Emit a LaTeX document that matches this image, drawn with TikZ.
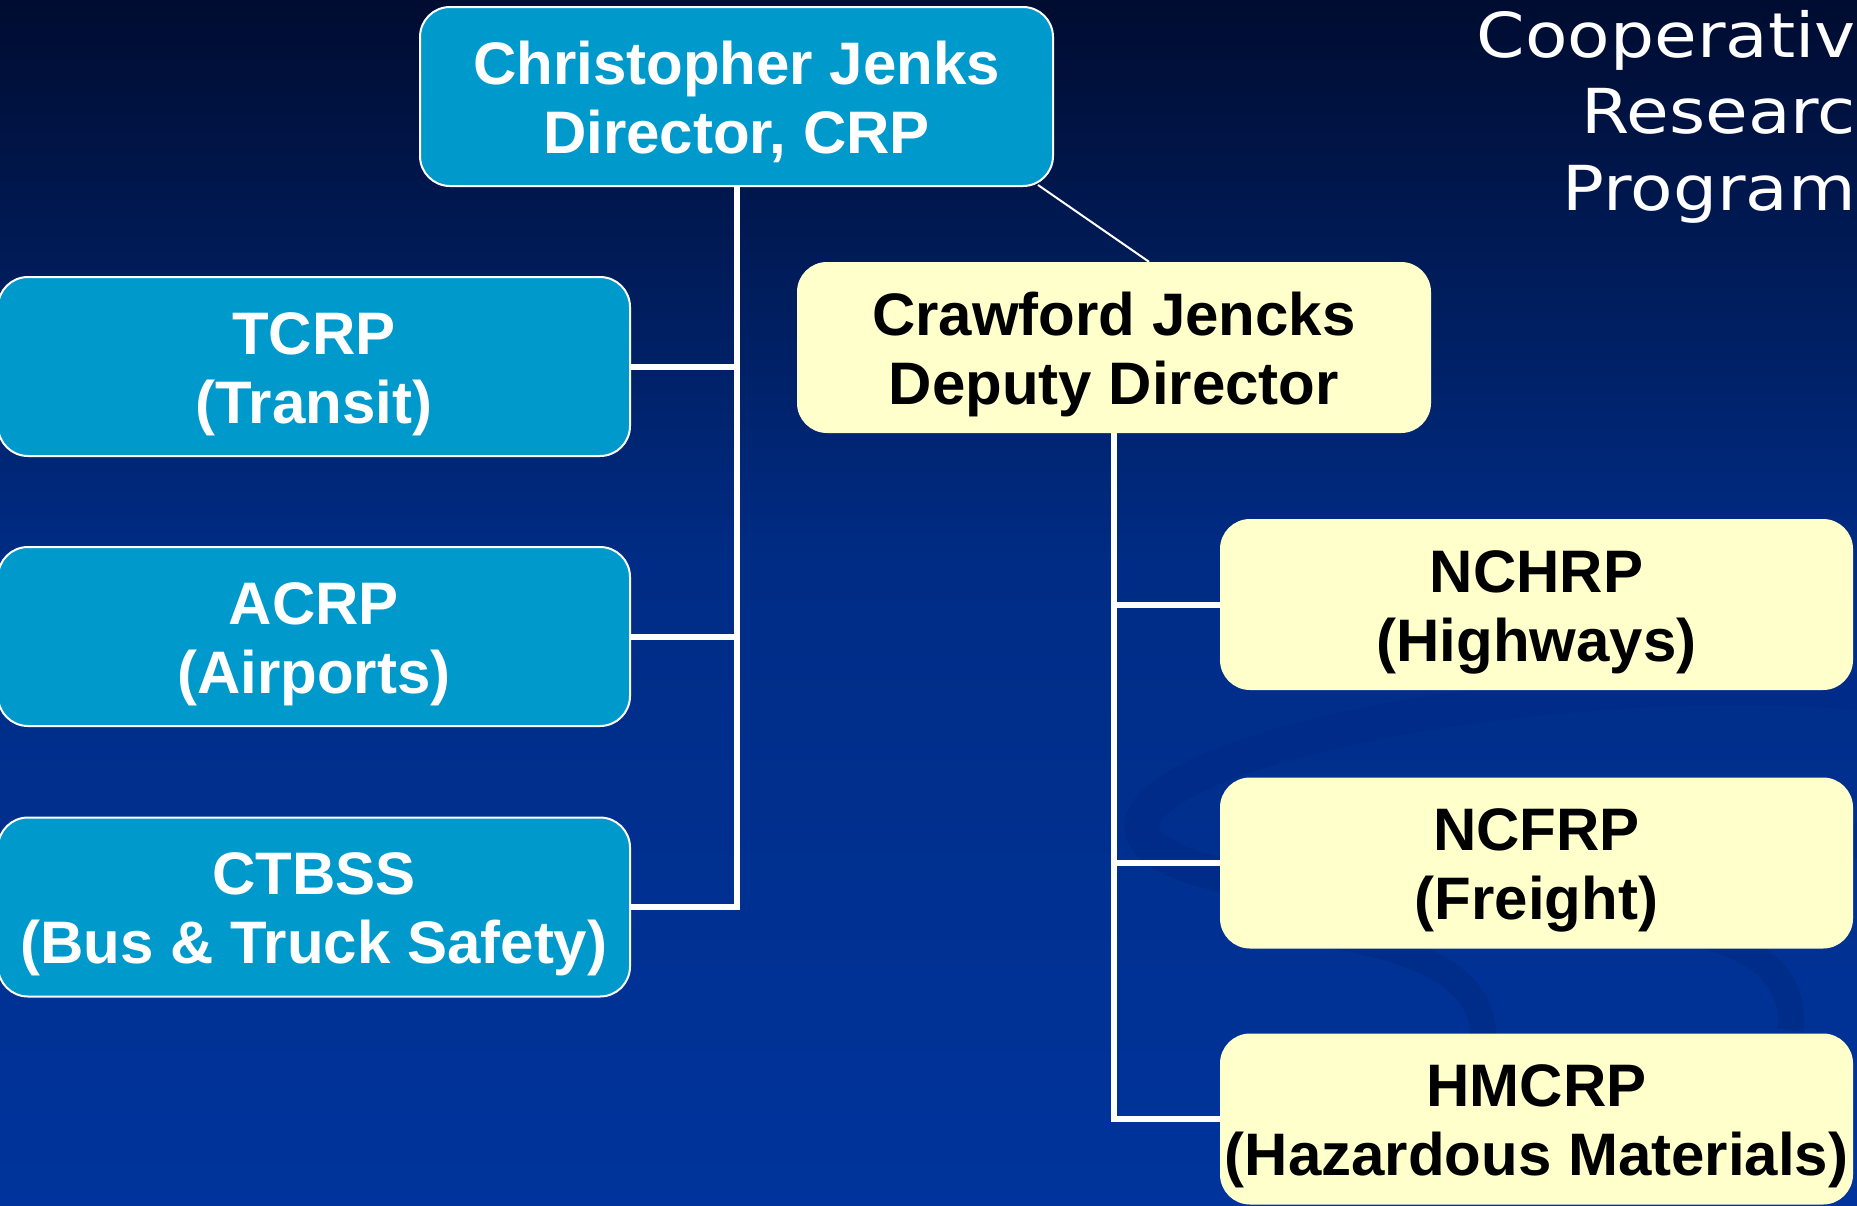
\documentclass[tikz,border=0pt]{standalone}
\usepackage{fontspec}
\setmainfont{Liberation Sans}
\newfontfamily\titlefont[FakeStretch=1.12]{DejaVu Sans}
\usetikzlibrary{calc}
\definecolor{boxblue}{HTML}{0099CC}
\definecolor{boxyellow}{HTML}{FFFFCC}
\definecolor{bgtop}{HTML}{000C30}
\definecolor{bgmid}{HTML}{002C85}
\definecolor{bgbot}{HTML}{00349C}
\definecolor{swirlc}{HTML}{002B88}
\pgfdeclarelayer{bglayer}
\pgfdeclarelayer{linelayer}
\pgfsetlayers{bglayer,linelayer,main}
\newcommand\ftop{\rule{0pt}{60pt}}
\newcommand\fbot{\rule[-16pt]{0pt}{16pt}}
\begin{document}
\begin{tikzpicture}[x=1pt,y=-1pt,
  box/.style={rectangle, rounded corners=30pt, inner sep=0pt, align=center,
    font=\fontsize{60}{69}\selectfont\bfseries, minimum width=633pt},
  bluebox/.style={box, fill=boxblue, draw=white, line width=2pt, text=white, minimum height=179pt},
  yellowbox/.style={box, fill=boxyellow, text=black, minimum height=171pt},
  conn/.style={draw=white, line width=6pt},
  thinconn/.style={draw=white, line width=2pt},
  swirl/.style={draw=swirlc, line width=34pt, opacity=0.8}]
\useasboundingbox (0,0) rectangle (1857,1205);
\begin{pgfonlayer}{bglayer}
  \shade[top color=bgtop, bottom color=bgmid] (0,0) rectangle (1857,560);
  \shade[top color=bgmid, bottom color=bgbot] (0,559) rectangle (1857,1205);
  \draw[swirl] (1580,790) ellipse [x radius=440, y radius=95, rotate=5];
  \draw[swirl, line width=26pt] (1480,1060) .. controls (1500,980) and (1420,950) .. (1330,935);
  \draw[swirl, line width=26pt] (1790,1030) .. controls (1800,960) and (1720,930) .. (1640,925);
\end{pgfonlayer}

\node[bluebox] (dir) at (736.5,96.5) {\ftop Christopher Jenks\\Director, CRP\fbot};
\node[bluebox, minimum width=632pt] (tcrp) at (314,366.5) {\ftop TCRP\\(Transit)\fbot};
\node[bluebox, minimum width=632pt] (acrp) at (314,636.5) {\ftop ACRP\\(Airports)\fbot};
\node[bluebox, minimum width=632pt] (ctbss) at (314,907) {\ftop CTBSS\\(Bus \& Truck Safety)\fbot};
\node[yellowbox, minimum width=634pt] (dep) at (1114,347.5) {\ftop Crawford Jencks\\Deputy Director\fbot};
\node[yellowbox] (nchrp) at (1536.5,604.5) {\ftop NCHRP\\(Highways)\fbot};
\node[yellowbox] (ncfrp) at (1536.5,863) {\ftop NCFRP\\(Freight)\fbot};
\node[yellowbox] (hmcrp) at (1536.5,1119) {\ftop HMCRP\\(Hazardous Materials)\fbot};

\node[anchor=north east, inner sep=0pt, align=right, text=white,
  font=\titlefont\fontsize{62}{76.5}\selectfont] (title) at (1856,10) {Cooperativ\\Researc\\Program};

\begin{pgfonlayer}{linelayer}
  \draw[conn] (dir.south) -- (dir.south |- ctbss.east) -- (ctbss.east);
  \draw[conn] (tcrp.east) -- (tcrp.east -| dir.south);
  \draw[conn] (acrp.east) -- (acrp.east -| dir.south);
  \draw[thinconn] ($(dir.south east)+(-16,-2)$) -- ($(dep.north)+(35,0)$);
  \draw[conn] (dep.south) -- (dep.south |- hmcrp.west) -- (hmcrp.west);
  \draw[conn] (nchrp.west) -- (nchrp.west -| dep.south);
  \draw[conn] (ncfrp.west) -- (ncfrp.west -| dep.south);
\end{pgfonlayer}
\end{tikzpicture}
\end{document}
